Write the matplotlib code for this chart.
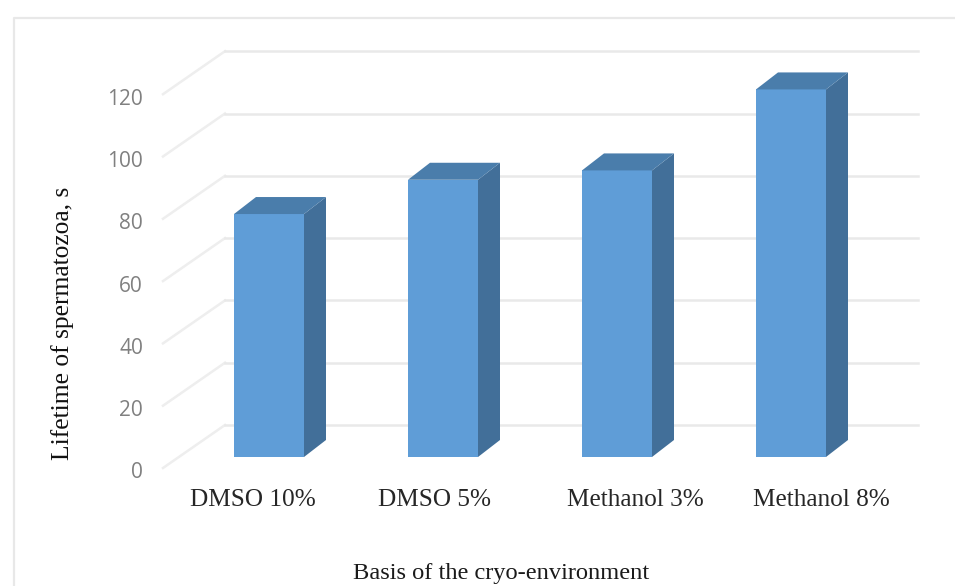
import matplotlib
matplotlib.use("Agg")
import matplotlib.pyplot as plt
from matplotlib.patches import Polygon

# Data
categories = ["DMSO 10%", "DMSO 5%", "Methanol 3%", "Methanol 8%"]
lifetime = [78, 89, 92, 118]
y_ticks = [0, 20, 40, 60, 80, 100, 120]

W, H = 955, 586
PX_X = 174.0    # pixels per category
PX_Y = 3.115    # pixels per value unit
X0, Y0 = 269, 457    # pixel position of first bar centre / value zero


# Pixel position to data position
def dx(px):
    return (px - X0) / PX_X


def dy(py):
    return (Y0 - py) / PX_Y


fig = plt.figure(figsize=(W / 100, H / 100), dpi=100, facecolor="white")
ax = fig.add_axes([0, 0, 1, 1])
ax.set_xlim(dx(0), dx(W))
ax.set_ylim(dy(H), dy(0))
ax.axis("off")

# Outer chart frame
ax.plot([dx(14), dx(14), dx(W)], [dy(H), dy(18), dy(18)], color="#e8e8e8", lw=1.6)

# Back wall gridlines and the diagonals on the side wall
depth_wall = 32 / PX_Y
for v in y_ticks:
    yb = v + depth_wall
    yf = v - 11 / PX_Y
    ax.plot([dx(163), dx(225)], [yf, yb], color="#eeeeee", lw=1.8, zorder=1)
    ax.plot([dx(225), dx(918)], [yb, yb], color="#e9e9e9", lw=1.8, zorder=1)
    ax.text(dx(143), v - 16 / PX_Y, str(v), ha="right", va="center",
            fontsize=15, family="Open Sans", color="#808080")

# 3D-looking bars
bar_w = 70 / PX_X
depth_x = 22 / PX_X
depth_y = 17 / PX_Y
positions = list(range(len(categories)))
ax.bar(positions, lifetime, width=bar_w, color="#5f9dd7", zorder=3)
for x, v in zip(positions, lifetime):
    l, r = x - bar_w / 2, x + bar_w / 2
    ax.add_patch(Polygon([(r, 0), (r + depth_x, depth_y), (r + depth_x, v + depth_y), (r, v)],
                         color="#426f99", lw=0, zorder=3))
    ax.add_patch(Polygon([(l, v), (l + depth_x, v + depth_y), (r + depth_x, v + depth_y), (r, v)],
                         color="#4a7dab", lw=0, zorder=3))

# Category labels sit a little off the bar centres
label_px = [253, 434, 635, 821]
for px, name in zip(label_px, categories):
    ax.text(dx(px), dy(500), name, ha="center", va="center",
            fontsize=18.2, family="Liberation Serif", color="#262626")

ax.text(dx(501), dy(573), "Basis of the cryo-environment", ha="center", va="center",
        fontsize=17.6, family="Liberation Serif", color="#1a1a1a")
ax.text(dx(63), dy(323), "Lifetime of spermatozoa, s", ha="center", va="center",
        rotation=90, fontsize=18.4, family="Liberation Serif", color="#111111")

fig.savefig("out.png", dpi=100)
